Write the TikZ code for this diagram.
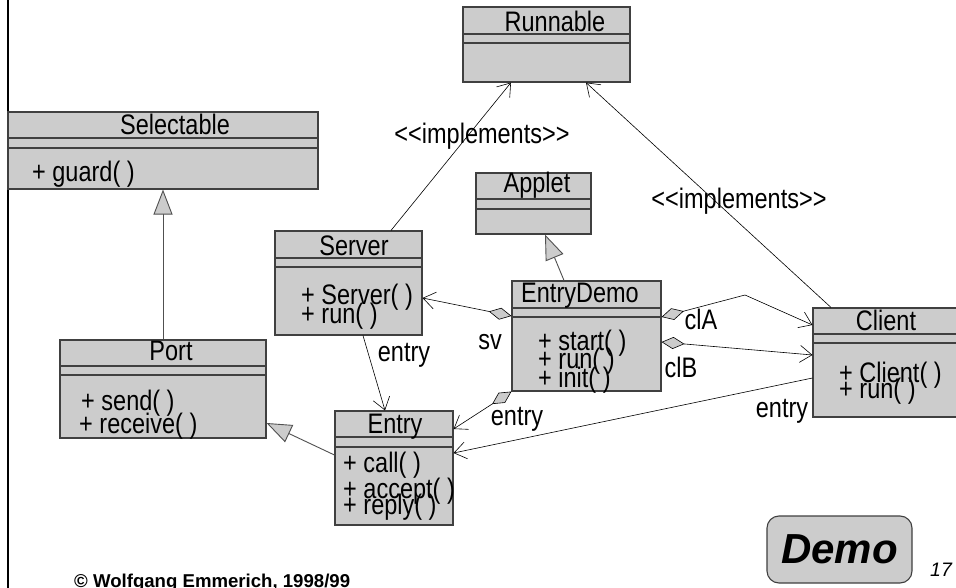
\documentclass[tikz,border=0pt]{standalone}
\usepackage{fontspec}
\setmainfont{Liberation Sans}
\usepackage{graphicx}
\usetikzlibrary{arrows.meta,fit}
\definecolor{boxgray}{RGB}{204,204,204}
\definecolor{edgegray}{RGB}{64,64,64}
\definecolor{genline}{RGB}{80,80,80}
\newcommand\vs[1]{\scalebox{1}[1.2]{#1}}
\newcommand\umlclass[7]{%
  \node[classbox, fit={(#2,#3) (#4,#5)}] (#1) {};
  \draw[sepline] (#1.west |- 0,#6) -- (#1.east |- 0,#6);
  \draw[sepline] (#1.west |- 0,#7) -- (#1.east |- 0,#7);
}
\begin{document}
\begin{tikzpicture}[x=1pt,y=-1pt,
  classbox/.style={draw=edgegray, fill=boxgray, line width=1.1pt, inner sep=0pt},
  sepline/.style={draw=edgegray, line width=1.1pt},
  txt/.style={inner sep=0pt, font=\fontsize{23.5}{24}\selectfont},
  cname/.style={txt, anchor=base},
  meth/.style={txt, anchor=base west},
  lbl/.style={txt},
  assoc/.style={draw=black, line width=0.6pt, -{Straight Barb[length=12pt,width=17pt]}},
  aggr/.style={draw=black, line width=0.6pt, {Diamond[fill=boxgray,length=23pt,width=12pt]}-{Straight Barb[length=12pt,width=17pt]}},
  gen/.style={draw=genline, line width=0.9pt, -{Triangle[fill=boxgray,length=25pt,width=19pt]}},
]
\useasboundingbox (0,0) rectangle (956,588);
\fill[white] (0,0) rectangle (956,588);

% left frame line
\coordinate (ftop) at (8,0);
\coordinate (fbot) at (8,588);
\draw[black, line width=2.5pt] (ftop) -- (fbot);

% classes
\umlclass{runnable}{463}{7}{630}{82}{34}{43}
\node[cname] (runnableN) at (555,32) {\vs{Runnable}};

\umlclass{selectable}{8}{112}{318}{189}{138}{148}
\node[cname] (selectableN) at (175,135) {\vs{Selectable}};
\node[meth] (selectableM1) at (32,182) {\vs{+ guard( )}};

\umlclass{server}{275}{231}{422}{335}{258}{267}
\node[cname] (serverN) at (354,255) {\vs{Server}};
\node[meth] (serverM1) at (301,305) {\vs{+ Server( )}};
\node[meth] (serverM2) at (301,323) {\vs{+ run( )}};

\umlclass{applet}{476}{173}{591}{234}{199}{209}
\node[cname] (appletN) at (537,193) {\vs{Applet}};

\umlclass{edemo}{512}{281}{661}{391}{308}{317}
\node[cname] (edemoN) at (580,302) {\vs{EntryDemo}};
\node[meth] (edemoM1) at (538,350) {\vs{+ start( )}};
\node[meth] (edemoM2) at (538,368) {\vs{+ run( )}};
\node[meth] (edemoM3) at (538,387) {\vs{+ init( )}};

\umlclass{port}{60}{340}{266}{438}{366}{375}
\node[cname] (portN) at (171,360) {\vs{Port}};
\node[meth] (portM1) at (81,410) {\vs{+ send( )}};
\node[meth] (portM2) at (79,433) {\vs{+ receive( )}};

\umlclass{entry}{335}{411}{453}{525}{437}{447}
\node[cname] (entryN) at (395,433) {\vs{Entry}};
\node[meth] (entryM1) at (343,472) {\vs{+ call( )}};
\node[meth] (entryM2) at (343,498) {\vs{+ accept( )}};
\node[meth] (entryM3) at (343,514) {\vs{+ reply( )}};

\umlclass{client}{813}{308}{958}{417}{334}{343}
\node[cname] (clientN) at (886,330) {\vs{Client}};
\node[meth] (clientM1) at (839,382) {\vs{+ Client( )}};
\node[meth] (clientM2) at (839,398) {\vs{+ run( )}};

% generalizations
\draw[gen] (port.north -| 163,0) -- (selectable.south -| 163,0);
\draw[gen] (entry.west |- 0,455) -- (port.east |- 0,423);
\draw[gen] (edemo.north -| 564,0) -- (applet.south -| 545,0);

% realizations
\draw[assoc] (server.north -| 391,0) -- (runnable.south -| 511,0);
\node[lbl] (impl1) at (482,136) {\vs{{<}{<}implements{>}{>}}};
\draw[assoc] (client.north -| 831,0) -- (runnable.south -| 586,0);
\node[lbl] (impl2) at (739,201) {\vs{{<}{<}implements{>}{>}}};

% associations
\draw[aggr] (edemo.west |- 0,316) -- (server.east |- 0,298);
\node[lbl] (svL) at (490,342) {\vs{sv}};

\coordinate (clAbend) at (745,295);
\draw[aggr] (edemo.east |- 0,317) -- (clAbend) -- (client.west |- 0,325);
\node[lbl] (clAL) at (701,319) {\vs{clA}};

\draw[aggr] (edemo.east |- 0,342) -- (client.west |- 0,355);
\node[lbl] (clBL) at (681,367) {\vs{clB}};

\draw[assoc] (server.south -| 363,0) -- (entry.north -| 385,0);
\node[lbl] (entry1L) at (404,355) {\vs{entry}};

\draw[aggr] (edemo.south west) -- (entry.east |- 0,429);
\node[lbl] (entry2L) at (517,419) {\vs{entry}};

\draw[assoc] (client.west |- 0,378) -- (entry.east |- 0,453);
\node[lbl] (entry3L) at (782,411) {\vs{entry}};

% demo button
\node[draw=edgegray, fill=boxgray, line width=1.1pt, rounded corners=12pt, inner sep=0pt, fit={(767,516) (912,583)}] (demo) {};
\node[inner sep=0pt, font=\fontsize{42}{42}\selectfont\bfseries\itshape] (demoT) at (demo.center) {Demo};
\node[inner sep=0pt, font=\fontsize{19.5}{20}\selectfont\itshape] (pagenum) at (941,570) {17};

\node[inner sep=0pt, anchor=base west, font=\fontsize{18.6}{19}\selectfont\bfseries] (copy) at (74,587) {© Wolfgang Emmerich, 1998/99};
\end{tikzpicture}
\end{document}
